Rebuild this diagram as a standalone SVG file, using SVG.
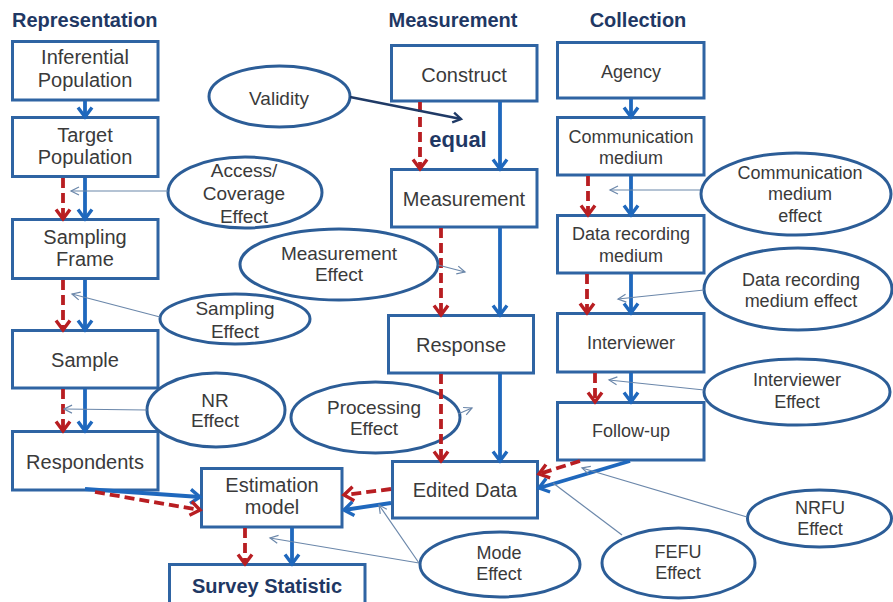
<svg xmlns="http://www.w3.org/2000/svg" width="893" height="602" viewBox="0 0 893 602">
<style>
.bx{fill:#fff;stroke:#2F64A3;stroke-width:3}
.el{fill:#fff;stroke:#2C5D97;stroke-width:3}
.t{font-family:"Liberation Sans",Arial,sans-serif;fill:#3A3A3A;text-anchor:middle}
.t20{font-size:20px}
.t19{font-size:19px}
.t18{font-size:18px}
.ttl{font-family:"Liberation Sans",Arial,sans-serif;font-weight:bold;font-size:20px;fill:#1F3864}
.b{fill:none;stroke:#1F68BD;stroke-width:3.8;marker-end:url(#ab)}
.r{fill:none;stroke:#B81E22;stroke-width:3.8;stroke-dasharray:10 5;marker-end:url(#ar)}
.thin{fill:none;stroke:#6B87AA;stroke-width:1.2}
.tha{fill:none;stroke:#6B87AA;stroke-width:1.2;marker-end:url(#at)}
</style>
<defs>
<marker id="ab" viewBox="0 0 16 18" refX="13" refY="9" markerWidth="16" markerHeight="18" markerUnits="userSpaceOnUse" orient="auto"><path d="M3.5,2 L13,9 L3.5,16" fill="none" stroke="#1F68BD" stroke-width="3.4"/></marker>
<marker id="ar" viewBox="0 0 16 18" refX="13" refY="9" markerWidth="16" markerHeight="18" markerUnits="userSpaceOnUse" orient="auto"><path d="M3.5,2 L13,9 L3.5,16" fill="none" stroke="#B81E22" stroke-width="3.4"/></marker>
<marker id="at" viewBox="0 0 12 12" refX="10" refY="6" markerWidth="12" markerHeight="12" markerUnits="userSpaceOnUse" orient="auto"><path d="M2,2 L10,6 L2,10" fill="none" stroke="#6B87AA" stroke-width="1.2"/></marker>
<marker id="av" viewBox="0 0 14 14" refX="11" refY="7" markerWidth="14" markerHeight="14" markerUnits="userSpaceOnUse" orient="auto"><path d="M3,2 L11,7 L3,12" fill="none" stroke="#1F3A66" stroke-width="2.4"/></marker>
</defs>
<rect width="893" height="602" fill="#fff"/>

<g id="titles">
<text class="ttl" x="12" y="27">Representation</text>
<text class="ttl" x="453" y="27" text-anchor="middle">Measurement</text>
<text class="ttl" x="638" y="27" text-anchor="middle">Collection</text>
</g>

<g id="inferential-population"><rect class="bx" x="12.5" y="41.5" width="145.5" height="58.5"/><text class="t t20" x="85" y="64">Inferential</text><text class="t t20" x="85" y="87">Population</text></g>
<g id="target-population"><rect class="bx" x="12.5" y="117.5" width="145.5" height="59"/><text class="t t20" x="85" y="142">Target</text><text class="t t20" x="85" y="164">Population</text></g>
<g id="sampling-frame"><rect class="bx" x="12.5" y="219.5" width="145.5" height="59"/><text class="t t20" x="85" y="244">Sampling</text><text class="t t20" x="85" y="266">Frame</text></g>
<g id="sample"><rect class="bx" x="12.5" y="330.5" width="145.5" height="57.5"/><text class="t t20" x="85" y="367">Sample</text></g>
<g id="respondents"><rect class="bx" x="12.5" y="431.5" width="145.5" height="58.5"/><text class="t t20" x="85" y="469">Respondents</text></g>
<g id="estimation-model"><rect class="bx" x="201.5" y="468.5" width="140.5" height="58.5"/><text class="t t20" x="272" y="492">Estimation</text><text class="t t20" x="272" y="514">model</text></g>
<g id="survey-statistic"><rect class="bx" x="169.5" y="564.5" width="195.5" height="45"/><text class="t t20" x="267" y="593" font-weight="bold" style="fill:#1F3864">Survey Statistic</text></g>

<g id="construct"><rect class="bx" x="391.5" y="45.5" width="145.5" height="55.5"/><text class="t t20" x="464" y="82">Construct</text></g>
<g id="measurement"><rect class="bx" x="391.5" y="169.5" width="145.5" height="57.5"/><text class="t t20" x="464" y="206">Measurement</text></g>
<g id="response"><rect class="bx" x="388.5" y="315.5" width="145" height="57.5"/><text class="t t20" x="461" y="352">Response</text></g>
<g id="edited-data"><rect class="bx" x="392.5" y="461.5" width="145" height="56.5"/><text class="t t20" x="465" y="497">Edited Data</text></g>

<g id="agency"><rect class="bx" x="557.5" y="42.5" width="146.5" height="55.5"/><text class="t t18" x="631" y="78">Agency</text></g>
<g id="communication-medium"><rect class="bx" x="557.5" y="117.5" width="146.5" height="57.5"/><text class="t t18" x="631" y="143">Communication</text><text class="t t18" x="631" y="164">medium</text></g>
<g id="data-recording-medium"><rect class="bx" x="557.5" y="215.5" width="146.5" height="57.5"/><text class="t t18" x="631" y="240">Data recording</text><text class="t t18" x="631" y="262">medium</text></g>
<g id="interviewer"><rect class="bx" x="557.5" y="313.5" width="146.5" height="58.5"/><text class="t t18" x="631" y="349">Interviewer</text></g>
<g id="follow-up"><rect class="bx" x="557.5" y="402.5" width="146.5" height="57.5"/><text class="t t18" x="631" y="437">Follow-up</text></g>

<g id="validity"><ellipse class="el" cx="279.5" cy="96.5" rx="70.5" ry="30.5"/><text class="t t19" x="279" y="105">Validity</text></g>
<g id="access-coverage-effect"><ellipse class="el" cx="245" cy="192.5" rx="77" ry="35.5"/><text class="t t19" x="244" y="177">Access/</text><text class="t t19" x="244" y="200">Coverage</text><text class="t t19" x="244" y="223">Effect</text></g>
<g id="sampling-effect"><ellipse class="el" cx="235" cy="319" rx="75" ry="25"/><text class="t t19" x="235" y="315">Sampling</text><text class="t t19" x="235" y="338">Effect</text></g>
<g id="measurement-effect"><ellipse class="el" cx="339" cy="264.5" rx="99" ry="35.5"/><text class="t t19" x="339" y="260">Measurement</text><text class="t t19" x="339" y="281">Effect</text></g>
<g id="nr-effect"><ellipse class="el" cx="216" cy="410" rx="69" ry="37"/><text class="t t19" x="215" y="407">NR</text><text class="t t19" x="215" y="427">Effect</text></g>
<g id="processing-effect"><ellipse class="el" cx="375.5" cy="417.5" rx="84.5" ry="35.5"/><text class="t t19" x="374" y="414">Processing</text><text class="t t19" x="374" y="435">Effect</text></g>
<g id="communication-medium-effect"><ellipse class="el" cx="796" cy="194" rx="95" ry="41"/><text class="t t18" x="800" y="179">Communication</text><text class="t t18" x="800" y="200">medium</text><text class="t t18" x="800" y="222">effect</text></g>
<g id="data-recording-medium-effect"><ellipse class="el" cx="798" cy="289" rx="94" ry="41"/><text class="t t18" x="801" y="286">Data recording</text><text class="t t18" x="801" y="307">medium effect</text></g>
<g id="interviewer-effect"><ellipse class="el" cx="797" cy="392" rx="93" ry="33"/><text class="t t18" x="797" y="386">Interviewer</text><text class="t t18" x="797" y="408">Effect</text></g>
<g id="nrfu-effect"><ellipse class="el" cx="819.5" cy="518.5" rx="72" ry="28.5"/><text class="t t18" x="820" y="514">NRFU</text><text class="t t18" x="820" y="535">Effect</text></g>
<g id="fefu-effect"><ellipse class="el" cx="678.5" cy="563" rx="76.5" ry="35"/><text class="t t18" x="678" y="558">FEFU</text><text class="t t18" x="678" y="579">Effect</text></g>
<g id="mode-effect"><ellipse class="el" cx="500" cy="564.5" rx="80" ry="32.5"/><text class="t t18" x="499" y="559">Mode</text><text class="t t18" x="499" y="580">Effect</text></g>

<g id="connectors">
<line class="b" x1="85" y1="101" x2="85" y2="117"/>
<line class="b" x1="85" y1="178" x2="85" y2="219"/>
<line class="r" x1="63" y1="178" x2="63" y2="219"/>
<line class="b" x1="85" y1="280" x2="85" y2="330"/>
<line class="r" x1="63" y1="280" x2="63" y2="330"/>
<line class="b" x1="85" y1="389" x2="85" y2="431"/>
<line class="r" x1="63" y1="389" x2="63" y2="431"/>

<line class="b" x1="500" y1="102" x2="500" y2="169"/>
<line class="r" x1="420" y1="102" x2="420" y2="169"/>
<line class="b" x1="500" y1="228" x2="500" y2="315"/>
<line class="r" x1="441" y1="228" x2="441" y2="315"/>
<line class="b" x1="500" y1="374" x2="500" y2="461"/>
<line class="r" x1="441" y1="374" x2="441" y2="461"/>

<line class="b" x1="631" y1="99" x2="631" y2="117"/>
<line class="b" x1="631" y1="176" x2="631" y2="215"/>
<line class="r" x1="588" y1="176" x2="588" y2="215"/>
<line class="b" x1="631" y1="274" x2="631" y2="313"/>
<line class="r" x1="587" y1="274" x2="587" y2="313"/>
<line class="b" x1="631" y1="373" x2="631" y2="402"/>
<line class="r" x1="595" y1="373" x2="595" y2="402"/>

<line class="b" x1="85" y1="489" x2="200" y2="497"/>
<line class="r" x1="95" y1="492" x2="200" y2="510"/>
<line class="r" x1="391" y1="489" x2="344" y2="495"/>
<line class="b" x1="391" y1="503" x2="344" y2="510"/>
<line class="r" x1="580" y1="461" x2="539" y2="474"/>
<line class="b" x1="630" y1="461" x2="539" y2="488"/>
<line class="r" x1="245" y1="528" x2="245" y2="564"/>
<line class="b" x1="292" y1="528" x2="292" y2="564"/>

<line x1="350" y1="97" x2="461" y2="119" fill="none" stroke="#1F3A66" stroke-width="2.4" marker-end="url(#av)"/>

<line class="tha" x1="168" y1="191" x2="71" y2="191"/>
<line class="tha" x1="160" y1="317" x2="72" y2="294"/>
<line class="tha" x1="147" y1="410" x2="64" y2="409"/>
<line class="tha" x1="438" y1="265" x2="465" y2="272"/>
<line class="tha" x1="458" y1="414" x2="472" y2="408"/>
<line class="tha" x1="700" y1="190" x2="610" y2="190"/>
<line class="tha" x1="704" y1="290" x2="618" y2="299"/>
<line class="tha" x1="704" y1="390" x2="609" y2="380"/>
<line class="tha" x1="747" y1="517" x2="582" y2="468"/>
<line class="thin" x1="622" y1="535" x2="553" y2="483"/>
<line class="tha" x1="419" y1="563" x2="379" y2="505"/>
<line class="tha" x1="419" y1="563" x2="270" y2="538"/>
</g>

<text x="458" y="147" font-family="Liberation Sans, Arial, sans-serif" font-weight="bold" font-size="22" fill="#1F3864" text-anchor="middle">equal</text>
</svg>
